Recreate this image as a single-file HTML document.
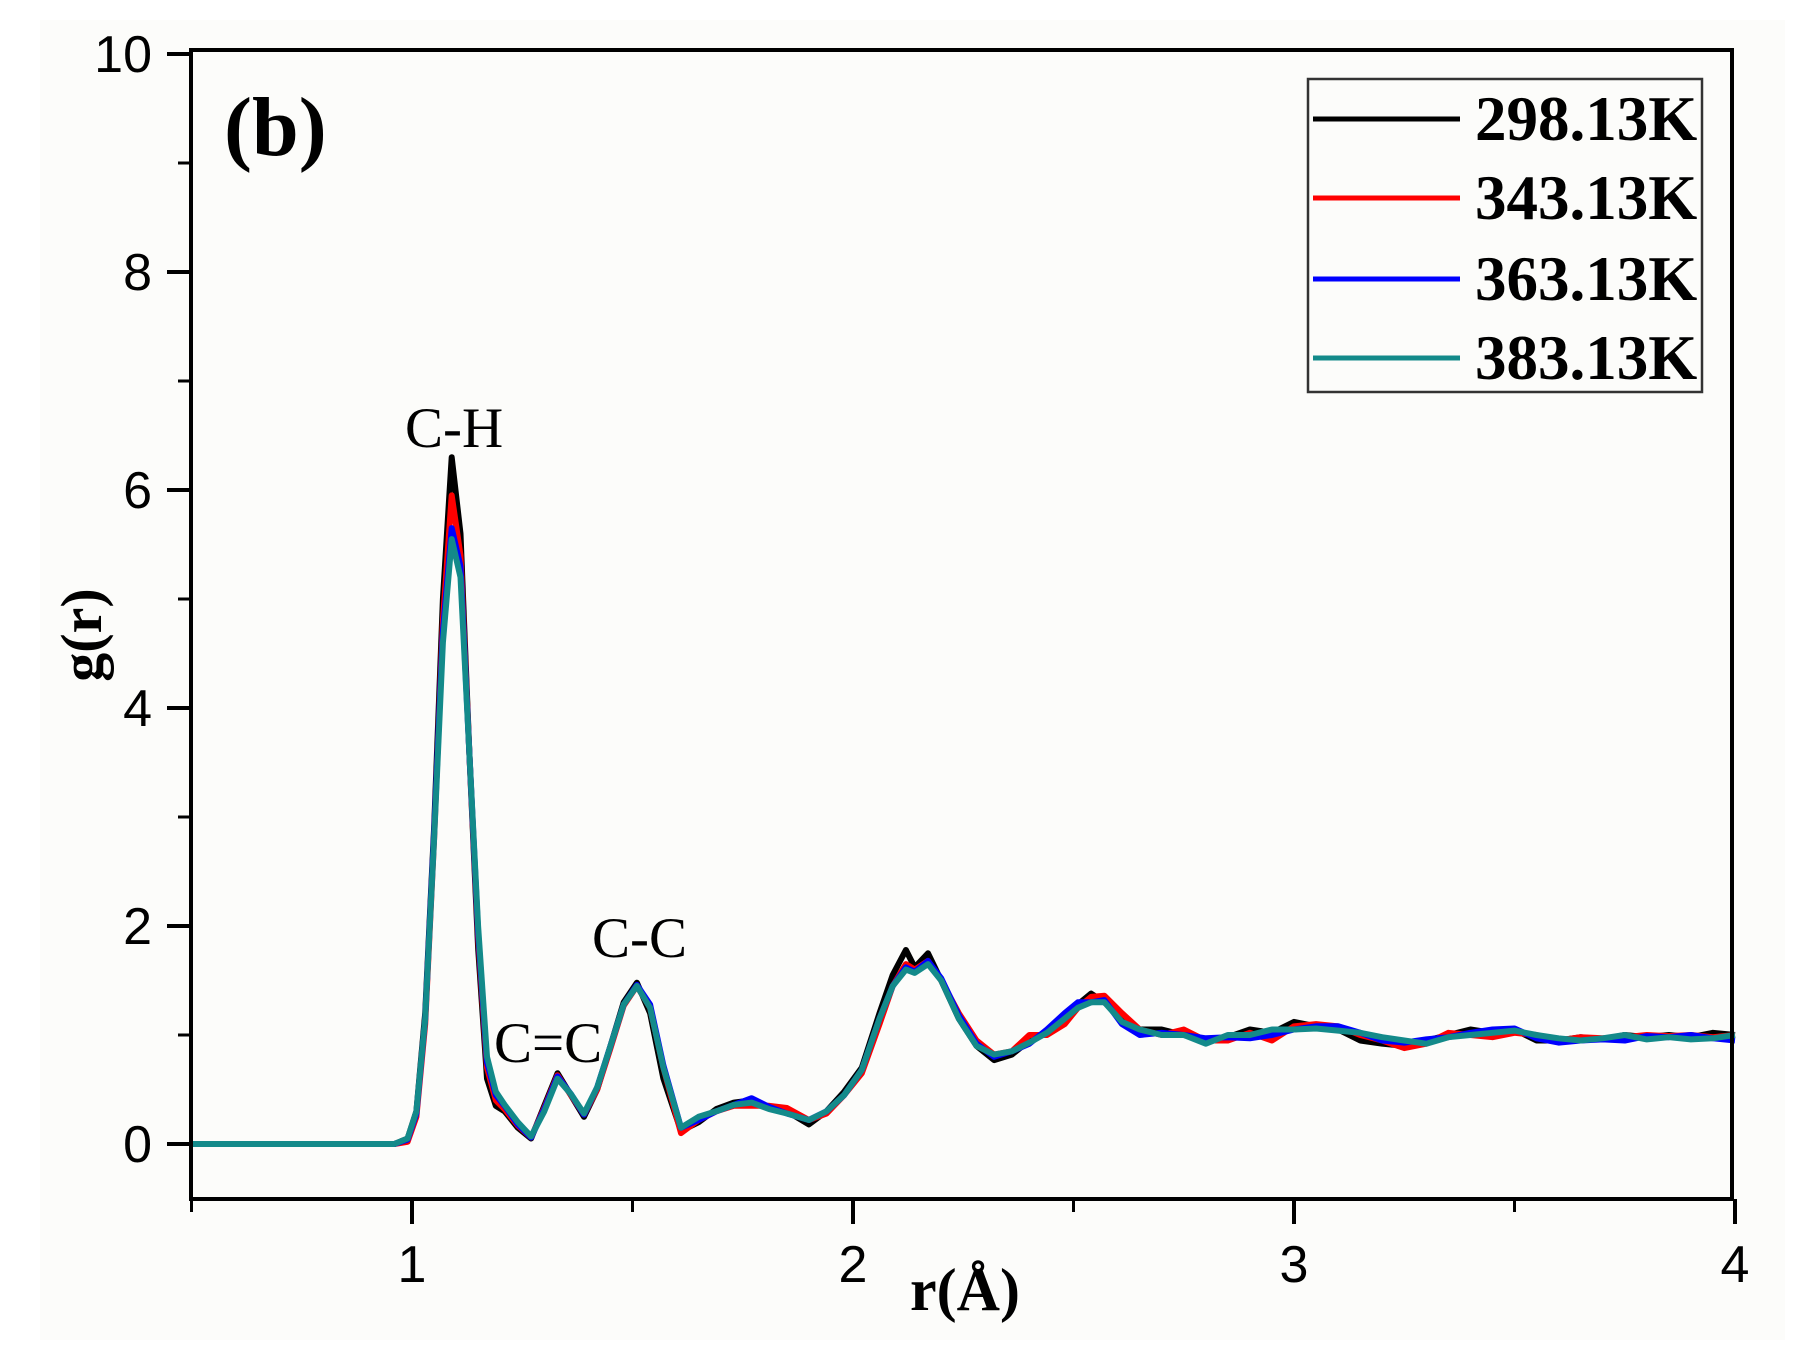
<!DOCTYPE html>
<html><head><meta charset="utf-8"><style>
html,body{margin:0;padding:0;background:#fff}
svg{display:block}
</style></head><body>
<svg id="chart" width="1815" height="1369" viewBox="0 0 1815 1369" xmlns="http://www.w3.org/2000/svg">
<rect x="40" y="20" width="1745" height="1320" fill="#fcfcfa"/>
<g id="plot"></g>
</svg>
<script>
const rVals=[0.5,0.96,0.99,1.01,1.03,1.05,1.07,1.09,1.11,1.13,1.15,1.17,1.19,1.21,1.24,1.27,1.30,1.33,1.36,1.39,1.42,1.45,1.48,1.51,1.54,1.57,1.61,1.65,1.69,1.73,1.77,1.81,1.85,1.90,1.94,1.98,2.02,2.06,2.09,2.12,2.14,2.17,2.20,2.24,2.28,2.32,2.36,2.40,2.44,2.48,2.51,2.54,2.57,2.61,2.65,2.70,2.75,2.80,2.85,2.90,2.95,3.00,3.05,3.10,3.15,3.20,3.25,3.30,3.35,3.40,3.45,3.50,3.55,3.60,3.65,3.70,3.75,3.80,3.85,3.90,3.95,4.00];
const g298=[0,0,0.05,0.3,1.2,2.9,5.0,6.3,5.6,3.6,1.8,0.6,0.35,0.3,0.15,0.05,0.35,0.65,0.45,0.25,0.5,0.9,1.3,1.48,1.2,0.6,0.12,0.2,0.32,0.38,0.4,0.33,0.3,0.18,0.3,0.48,0.7,1.2,1.55,1.78,1.62,1.75,1.5,1.15,0.9,0.77,0.82,0.95,1.02,1.15,1.28,1.38,1.3,1.15,1.05,1.05,1.0,0.95,0.98,1.05,1.02,1.12,1.08,1.05,0.95,0.92,0.9,0.95,1.0,1.05,1.02,1.05,0.95,0.95,0.98,0.96,1.0,0.98,1.0,0.98,1.02,1.0];
const g343=[0,0,0.02,0.25,1.1,2.8,4.8,5.95,5.4,3.6,1.9,0.7,0.4,0.32,0.17,0.06,0.33,0.63,0.45,0.27,0.5,0.88,1.27,1.45,1.25,0.7,0.1,0.22,0.3,0.35,0.35,0.35,0.33,0.22,0.28,0.45,0.65,1.1,1.45,1.65,1.6,1.68,1.5,1.2,0.95,0.82,0.85,1.0,1.0,1.1,1.25,1.35,1.36,1.2,1.05,1.0,1.05,0.95,0.95,1.02,0.95,1.08,1.1,1.08,1.0,0.95,0.88,0.92,1.02,1.0,0.98,1.02,1.0,0.95,0.98,0.97,0.98,1.0,0.99,1.0,0.98,1.0];
const g363=[0,0,0.04,0.28,1.15,2.85,4.7,5.65,5.3,3.6,1.95,0.75,0.45,0.35,0.18,0.06,0.32,0.62,0.46,0.27,0.52,0.9,1.28,1.46,1.28,0.72,0.15,0.22,0.3,0.36,0.42,0.34,0.28,0.22,0.3,0.45,0.68,1.15,1.45,1.62,1.58,1.68,1.52,1.18,0.92,0.8,0.85,0.92,1.05,1.2,1.3,1.3,1.32,1.1,1.0,1.02,1.0,0.97,0.98,0.97,1.0,1.05,1.08,1.08,1.02,0.95,0.93,0.96,0.98,1.02,1.05,1.06,0.97,0.93,0.95,0.96,0.95,0.99,0.98,1.0,0.97,0.95];
const g383=[0,0,0.05,0.3,1.15,2.8,4.6,5.55,5.2,3.6,2.0,0.8,0.48,0.36,0.2,0.07,0.3,0.6,0.46,0.28,0.52,0.9,1.28,1.45,1.25,0.7,0.15,0.25,0.3,0.36,0.38,0.32,0.28,0.22,0.3,0.45,0.68,1.15,1.45,1.6,1.57,1.65,1.5,1.15,0.9,0.82,0.85,0.93,1.02,1.15,1.25,1.3,1.3,1.12,1.05,1.0,1.0,0.92,1.0,1.0,1.05,1.05,1.06,1.04,1.02,0.98,0.95,0.92,0.98,1.0,1.02,1.04,1.0,0.97,0.95,0.97,1.0,0.96,0.98,0.96,0.97,1.0];
const seriesLabels=["298.13K","343.13K","363.13K","383.13K"];
const seriesColors=["#000000","#ff0000","#0000ff","#138a8a"];
const xTicks=[1,2,3,4];
const xMinor=[0.5,1.5,2.5,3.5];
const yTicks=[0,2,4,6,8,10];
const yMinor=[1,3,5,7,9];

const NS="http://www.w3.org/2000/svg";
const X=r=>412+(r-1)*441;
const Y=v=>1144-v*109;
const plot=document.getElementById('plot');
function mk(tag,attrs,parent){const e=document.createElementNS(NS,tag);for(const k in attrs)e.setAttribute(k,attrs[k]);(parent||plot).appendChild(e);return e;}

const allSeries=[g298,g343,g363,g383];
allSeries.forEach((s,i)=>{
  const d=s.map((v,j)=>(j?'L':'M')+X(rVals[j]).toFixed(1)+' '+Y(v).toFixed(1)).join(' ');
  const p=mk('path',{d:d,fill:'none',stroke:seriesColors[i],'stroke-width':6,'stroke-linejoin':'round'});
  
  
});

const fr=mk('rect',{x:191,y:50,width:1541,height:1149,fill:'none',stroke:'#000','stroke-width':4});



xTicks.forEach(t=>{
  const l=mk('line',{x1:X(t),x2:X(t),y1:1199,y2:1224,stroke:'#000','stroke-width':4});
  
  
  const tx=mk('text',{x:X(t),y:1282,'text-anchor':'middle','font-family':'Liberation Sans, sans-serif','font-size':52});
  tx.textContent=t;
  
  
});
xMinor.forEach(t=>{
  const l=mk('line',{x1:X(t),x2:X(t),y1:1199,y2:1212,stroke:'#000','stroke-width':3});
  
  
});
yTicks.forEach(t=>{
  const l=mk('line',{x1:167,x2:191,y1:Y(t),y2:Y(t),stroke:'#000','stroke-width':4});
  
  
  const tx=mk('text',{x:152,y:Y(t)+18,'text-anchor':'end','font-family':'Liberation Sans, sans-serif','font-size':52});
  tx.textContent=t;
  
  
});
yMinor.forEach(t=>{
  const l=mk('line',{x1:178,x2:191,y1:Y(t),y2:Y(t),stroke:'#000','stroke-width':3});
  
  
});

const xt=mk('text',{x:965,y:1310,'text-anchor':'middle','font-family':'Liberation Serif, serif','font-weight':'bold','font-size':60});
xt.textContent='r(Å)';


const yt=mk('text',{x:0,y:0,'text-anchor':'middle','font-family':'Liberation Serif, serif','font-weight':'bold','font-size':58,transform:'translate(101,635) rotate(-90)'});
yt.textContent='g(r)';



const pl=mk('text',{x:224,y:155,'font-family':'Liberation Serif, serif','font-weight':'bold','font-size':84});
pl.textContent='(b)';


[['C-H',405,447,'annotation-c-h'],['C-C',592,957,'annotation-c-c'],['C=C',494,1062,'annotation-c-double-c']].forEach(a=>{
  const t=mk('text',{x:a[1],y:a[2],'font-family':'Liberation Serif, serif','font-size':57});
  t.textContent=a[0];
  
  
});

const lg=mk('g',{});


mk('rect',{x:1308,y:79,width:394,height:313,fill:'none',stroke:'#333','stroke-width':2.5},lg);
const rowsY=[119,198,279,358];
seriesLabels.forEach((lab,i)=>{
  const ln=mk('line',{x1:1313,x2:1460,y1:rowsY[i],y2:rowsY[i],stroke:seriesColors[i],'stroke-width':5},lg);
  
  
  const t=mk('text',{x:1475,y:rowsY[i]+21,'font-family':'Liberation Serif, serif','font-weight':'bold','font-size':63},lg);
  t.textContent=lab;
  
  
});
</script>
</body></html>
